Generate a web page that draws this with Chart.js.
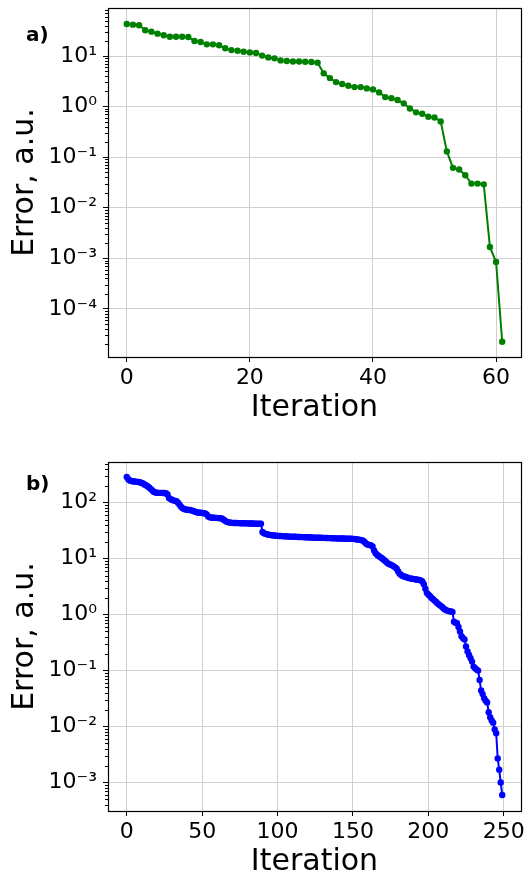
<!DOCTYPE html>
<html><head><meta charset="utf-8">
<script src="https://cdn.jsdelivr.net/npm/chart.js@4"></script>
<style>
html,body{margin:0;padding:0;background:#fff;overflow:hidden;width:530px;height:874px;}
.wrap{position:absolute;left:0;width:530px;}
.lab{position:absolute;font-family:'DejaVu Sans';font-weight:bold;font-size:20px;line-height:1;color:#000;}
</style></head><body>
<div class="wrap" style="top:0;height:437px"><canvas id="c1" width="530" height="437"></canvas></div>
<div class="wrap" style="top:437px;height:460px"><canvas id="c2" width="530" height="460"></canvas></div>
<div class="lab" style="left:26px;top:24px">a)</div>
<div class="lab" style="left:26px;top:473px">b)</div>
<script>
// ---- data ----
const topErrors = [
  43, 41.7, 40.5, 32.3, 30.3, 27.7, 25.7, 24.1, 24.1, 24.1,
  23.8, 19.8, 18.9, 17.0, 17.0, 16.3, 14.2, 13.1, 12.7, 12.2,
  11.8, 11.5, 10.2, 9.4, 9.0, 8.2, 7.96, 7.8, 7.8, 7.7,
  7.6, 7.4, 4.54, 3.66, 3.05, 2.79, 2.58, 2.43, 2.43, 2.29,
  2.19, 1.91, 1.54, 1.47, 1.35, 1.16, 0.92, 0.77, 0.72, 0.63,
  0.61, 0.51, 0.13, 0.0615, 0.057, 0.044, 0.030, 0.030, 0.029, 0.00168,
  0.000845, 2.24e-5
];
const bottomErrors = [
  288,262,250,245,242,240,238,236,234,230,
  226,218,210,203,195,185,175,165,156,152,
  151,150,150,150,149,149,148,140,122,116,
  113,110,108,106,100,92,85,80,77,76,
  75,74,74,73,71,70,68,67,66,66,
  65.5,65,64.5,62,57,55,54.5,54,54,53.5,
  53.5,53,53,52.5,50,48,46,45,44.5,44,
  43.7,43.5,43.4,43.3,43.2,43.1,43,43,42.9,42.8,
  42.7,42.6,42.5,42.5,42.4,42.3,42.2,42.1,42,42,
  30,28.5,27.8,27.3,26.9,26.6,26.3,26.1,25.9,25.7,
  25.6,25.5,25.4,25.3,25.2,25.1,25.0,24.9,24.8,24.8,
  24.7,24.6,24.6,24.5,24.4,24.4,24.3,24.3,24.2,24.2,
  24.1,24.0,23.9,23.9,23.8,23.8,23.7,23.7,23.6,23.6,
  23.5,23.5,23.4,23.4,23.3,23.3,23.2,23.2,23.1,23.1,
  23.0,23.0,22.9,22.9,22.9,22.8,22.8,22.8,22.7,22.7,
  22.6,22.5,22.3,22.1,21.9,21.6,21.3,20.8,19.5,18.3,
  17.8,17.6,17.3,16.5,14.0,12.5,11.8,11.2,10.7,10.3,
  9.8,9.3,8.8,8.3,8.0,7.8,7.6,7.3,7.0,6.6,
  5.9,5.4,5.1,4.9,4.8,4.7,4.6,4.5,4.45,4.4,
  4.35,4.3,4.25,4.2,4.15,4.1,3.9,3.5,2.9,2.45,
  2.3,2.15,2.0,1.9,1.8,1.7,1.6,1.52,1.45,1.38,
  1.3,1.24,1.2,1.17,1.15,1.14,1.12,0.75,0.72,0.70,
  0.60,0.50,0.41,0.38,0.36,0.27,0.22,0.19,0.167,0.145,
  0.118,0.110,0.105,0.100,0.068,0.044,0.038,0.032,0.029,0.027,
  0.018,0.0147,0.0128,0.0117,0.0089,0.0076,0.0027,0.0017,0.0010,0.0006
];
const topIterations = topErrors.map((_, i) => i);
const bottomIterations = bottomErrors.map((_, i) => i);
const topXTicks = [0, 20, 40, 60];
const bottomXTicks = [0, 50, 100, 150, 200, 250];
const topXRange = [-3.05, 64.05];
const bottomXRange = [-12.45, 261.45];
const topYRange = [1.12e-5, 89];
const bottomYRange = [3.1e-4, 534];
const xTitle = 'Iteration';
const yTitle = 'Error, a.u.';

// ---- helpers ----
Chart.defaults.font.family = "'DejaVu Sans'";
Chart.defaults.color = '#000';
const SUP = {'-':'\u207B','0':'\u2070','1':'\u00B9','2':'\u00B2','3':'\u00B3','4':'\u2074','5':'\u2075','6':'\u2076','7':'\u2077','8':'\u2078','9':'\u2079'};
const sup = n => String(n).split('').map(c => SUP[c]).join('');
const isDecade = v => { const e = Math.log10(v); return Math.abs(e - Math.round(e)) < 1e-9; };
function logTicks(min, max) {
  const t = [];
  for (let e = Math.floor(Math.log10(min)); e <= Math.ceil(Math.log10(max)); e++) {
    for (let k = 1; k < 10; k++) {
      const v = parseFloat((k * Math.pow(10, e)).toPrecision(6));
      if (v >= min && v <= max) t.push({value: v});
    }
  }
  return t;
}
const frame = {
  id: 'frame',
  afterDraw(chart) {
    const {ctx, chartArea: a} = chart;
    const y = chart.scales.y;
    ctx.save();
    ctx.strokeStyle = '#000';
    ctx.lineWidth = 1;
    y.ticks.forEach(t => {
      if (!isDecade(t.value)) {
        const py = Math.round(y.getPixelForValue(t.value)) + 0.5;
        ctx.beginPath(); ctx.moveTo(a.left - 3, py); ctx.lineTo(a.left, py); ctx.stroke();
      }
    });
    ctx.lineWidth = 1.2;
    ctx.strokeRect(Math.round(a.left) + 0.5, Math.round(a.top) + 0.5, Math.round(a.right - a.left), Math.round(a.bottom - a.top));
    ctx.restore();
  }
};

function makeChart(id, xs, errors, color, xTicks, xRange, yRange, pad, xH, xTitlePad) {
  const data = errors.map((v, i) => ({x: xs[i], y: v}));
  return new Chart(document.getElementById(id), {
    type: 'line',
    data: {datasets: [{data, borderColor: color, backgroundColor: color, borderWidth: 2,
      pointRadius: 3.2, pointHoverRadius: 3.2, pointBorderWidth: 0, pointBackgroundColor: color,
      tension: 0, fill: false}]},
    options: {
      responsive: false, animation: false, devicePixelRatio: 1, events: [],
      layout: {padding: pad},
      plugins: {legend: {display: false}, tooltip: {enabled: false}},
      scales: {
        x: {type: 'linear', min: xRange[0], max: xRange[1], bounds: 'data',
          afterBuildTicks(s) { s.ticks = xTicks.map(v => ({value: v})); },
          afterFit(s) { s.height = xH; s.paddingLeft = 0; s.paddingRight = 0; },
          ticks: {font: {size: 22}, padding: 3, maxRotation: 0, autoSkip: false, color: '#000', callback: v => String(v)},
          grid: {color: '#cfcfcf', lineWidth: 1, tickColor: '#000', tickLength: 5},
          border: {display: false},
          title: {display: true, text: xTitle, font: {size: 30, lineHeight: 1}, color: '#000', padding: {top: 0, bottom: xTitlePad}}
        },
        y: {type: 'logarithmic', min: yRange[0], max: yRange[1], bounds: 'data',
          afterBuildTicks(s) { s.ticks = logTicks(yRange[0], yRange[1]); },
          afterFit(s) { s.width = 108; s.paddingTop = 0; s.paddingBottom = 0; },
          ticks: {font: {size: 22}, padding: 6, autoSkip: false, color: '#000',
            callback: v => isDecade(v) ? '10' + sup(Math.round(Math.log10(v))) : ''},
          grid: {color: c => isDecade(c.tick.value) ? '#cfcfcf' : 'rgba(0,0,0,0)',
                 tickColor: c => isDecade(c.tick.value) ? '#000' : 'rgba(0,0,0,0)', tickLength: 5},
          border: {display: false},
          title: {display: true, text: yTitle, font: {size: 30, lineHeight: 1}, color: '#000', padding: {top: 10, bottom: 0}}
        }
      }
    },
    plugins: [frame]
  });
}

makeChart('c1', topIterations, topErrors, '#008000', topXTicks, topXRange, topYRange,
  {top: 8, right: 9, left: 0, bottom: 0}, 80, 14);
makeChart('c2', bottomIterations, bottomErrors, '#0000ff', bottomXTicks, bottomXRange, bottomYRange,
  {top: 25, right: 9, left: 0, bottom: 0}, 86, 20);
</script>
</body></html>
